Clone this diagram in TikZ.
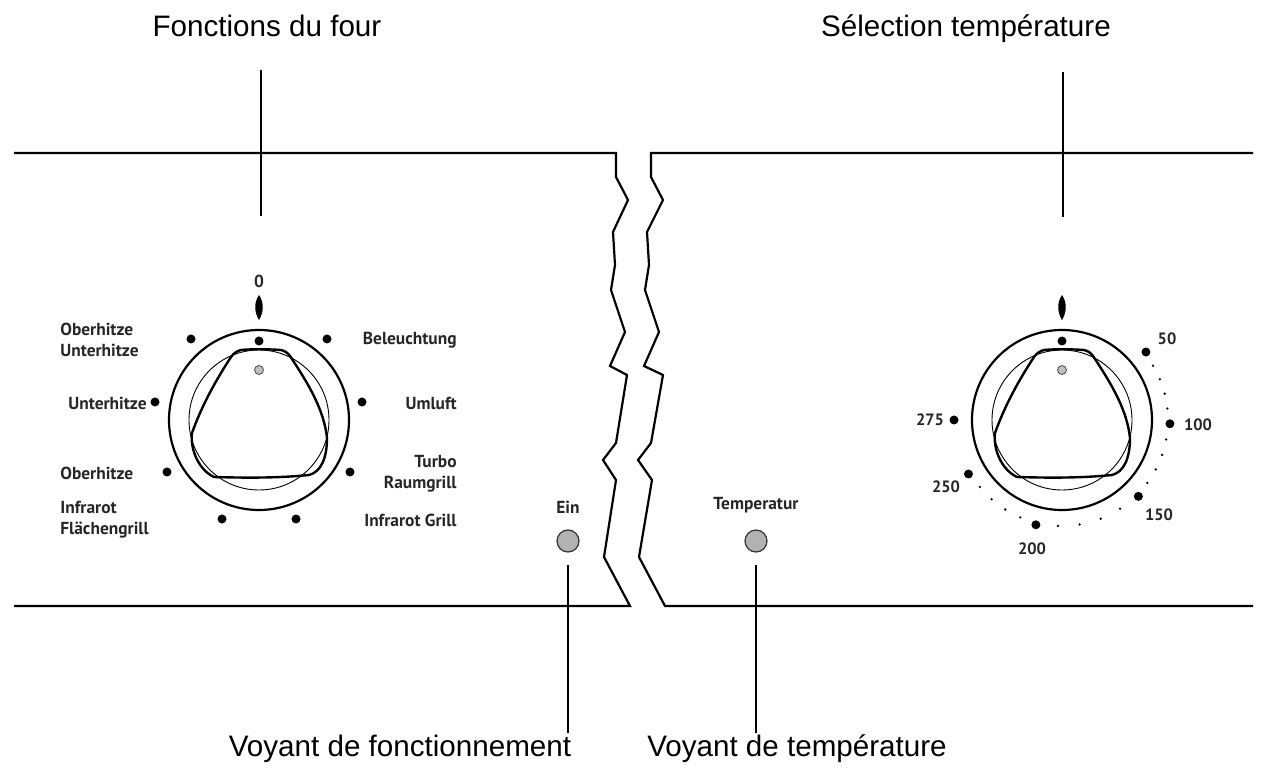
\documentclass[tikz,border=0pt]{standalone}
\usepackage{fontspec}
\usetikzlibrary{calc}
\setmainfont{Liberation Sans}
\newfontfamily\lbl{PT Sans}
\begin{document}
\begin{tikzpicture}[x=0.5pt,y=-0.5pt,
  panel/.style={line width=1.1pt,line join=miter},
  ring/.style={line width=1.1pt},
  title/.style={font=\fontsize{14.8}{17}\selectfont,inner sep=0pt,anchor=base},
  lab/.style={font=\lbl\bfseries\fontsize{8.7}{10.5}\selectfont,inner sep=0pt,text=black!85},
  num/.style={font=\lbl\bfseries\fontsize{8.2}{9}\selectfont,inner sep=0pt,text=black!85},
  dot/.style={circle,fill=black,inner sep=0pt,minimum size=4.5pt},
  sdot/.style={circle,fill=black,inner sep=0pt,minimum size=1.3pt},
  lamp/.style={circle,draw=black!80,fill=black!30,line width=0.6pt,inner sep=0pt,minimum size=11pt},
  lead/.style={line width=0.7pt}]
\useasboundingbox (0,0) rectangle (1265,770);
% knob pic
\tikzset{knob/.pic={
  \draw[ring] (0,0) circle (90);
  \draw[line width=0.45pt] (0,0) circle (70);
  \draw[line width=1.2pt,line join=round] (-18,-70) .. controls (-8,-71) and (8,-71) .. (22,-70) .. controls (27,-69) and (30,-66) .. (33,-61) .. controls (50,-35) and (65,-10) .. (68,18) .. controls (68,38) and (62,52) .. (50,55) .. controls (20,58) and (-10,58) .. (-45,57) .. controls (-60,50) and (-69,30) .. (-67,13) .. controls (-57,-15) and (-43,-40) .. (-28,-63) .. controls (-25,-67) and (-22,-69) .. (-18,-70) -- cycle;
  \node[dot] at (0,-79) {};
  \draw[black!70,fill=black!25,line width=0.4pt] (0,-50) circle (4.5);
  \fill (0,-125) .. controls (5,-118) and (5,-108) .. (0,-100) .. controls (-5,-108) and (-5,-118) .. (0,-125) -- cycle;
}}
% panel
\draw[panel] (14,153) -- (616,153) -- (616,177) -- (628,200) -- (613,232) -- (615,265) -- (611,290) -- (625,332) -- (610,366) -- (627,375) -- (616,443) -- (603,460) -- (616,480) -- (604,557) -- (630,606) -- (14,606);
\draw[panel] (1253,153) -- (651,153) -- (651,177) -- (663,200) -- (647,232) -- (649,265) -- (645,290) -- (659,332) -- (644,366) -- (663,375) -- (651,443) -- (638,460) -- (652,480) -- (639,557) -- (665,606) -- (1253,606);
% left knob
\pic at (259,420) {knob};
\node[lab] at (259,281) {0};
\foreach \p in {(191,339),(327,339),(155,402),(362,402),(167,472),(350,472),(222,519),(296,519)} \node[dot] at \p {};
\node[lab,anchor=west,align=left] at (60,340) {Oberhitze\\Unterhitze};
\node[lab,anchor=east] at (457,340) {Beleuchtung};
\node[lab,anchor=east] at (147,403) {Unterhitze};
\node[lab,anchor=east] at (457,403) {Umluft};
\node[lab,anchor=west] at (60,473) {Oberhitze};
\node[lab,anchor=east,align=right] at (457,474) {Turbo\\Raumgrill};
\node[lab,anchor=west,align=left] at (60,520) {Infrarot\\Flächengrill};
\node[lab,anchor=east] at (457,520) {Infrarot Grill};
% right knob
\pic at (1062,420) {knob};
\foreach \a in {39,-2,-45,-104,-150,180} \node[dot] at ($(1062,420)+({108*cos(\a)},{-108*sin(\a)})$) {};
\foreach \s/\e in {39/-2,-2/-45,-45/-104,-104/-150}
  \foreach \k in {1,...,4} \node[sdot] at ($(1062,420)+({106*cos(\s+(\e-\s)*\k/5)},{-106*sin(\s+(\e-\s)*\k/5)})$) {};
\node[num] at (1167,339) {50};
\node[num] at (1198,425) {100};
\node[num] at (1159,515) {150};
\node[num] at (1032,549) {200};
\node[num] at (946,487) {250};
\node[num] at (930,420) {275};
% lamps
\node[lamp] (ein) at (568,541) {};
\node[lab] at (568,507) {Ein};
\node[lamp] (temp) at (756,541) {};
\node[lab] at (756,505) {Temperatur};
% titles and leaders
\node[title] (t1) at (267,37) {Fonctions du four};
\node[title] (t2) at (966,37) {Sélection température};
\node[title] (b1) at (400,756) {Voyant de fonctionnement};
\node[title] (b2) at (797,756) {Voyant de température};
\coordinate (k1) at (261,216); \coordinate (k1t) at (261,70);
\coordinate (k2) at (1063,217); \coordinate (k2t) at (1063,72);
\coordinate (e1) at (568,565); \coordinate (e2) at (568,733);
\coordinate (f1) at (756,565); \coordinate (f2) at (756,733);
\draw[lead] (k1t) -- (k1);
\draw[lead] (k2t) -- (k2);
\draw[lead] (e1) -- (e2);
\draw[lead] (f1) -- (f2);
\end{tikzpicture}
\end{document}
